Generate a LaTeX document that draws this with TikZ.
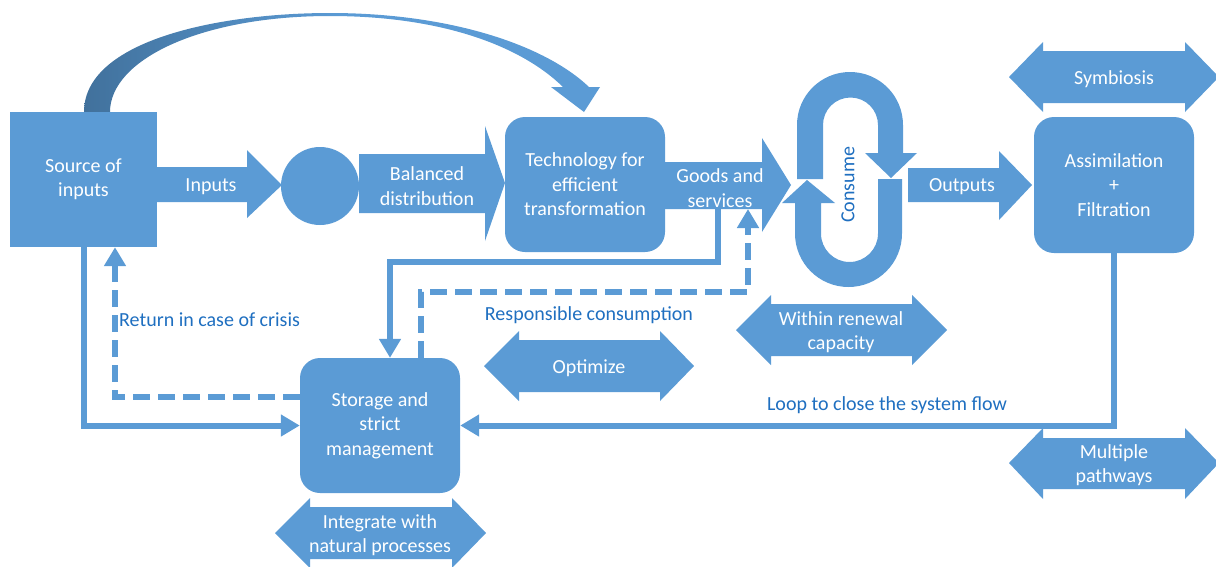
\documentclass[tikz,border=0pt]{standalone}
\usepackage{fontspec}
\setmainfont{Carlito}
\usetikzlibrary{arrows.meta}
\definecolor{fillblue}{HTML}{5B9BD5}
\definecolor{darkfill}{HTML}{41719C}
\definecolor{labelblue}{HTML}{1F6FC0}
\begin{document}
\begin{tikzpicture}[x=1pt,y=-1pt,
  blk/.style={fill=fillblue,draw=none},
  txtfont/.style={font=\fontsize{20}{24.4}\selectfont},
  boxtxt/.style={txtfont,text=white,align=center,inner sep=0pt,yshift=-2pt},
  lbl/.style={txtfont,text=labelblue,inner sep=0pt},
  rbox/.style={txtfont,fill=fillblue,rounded corners=20pt,inner sep=0pt,text=white,align=center},
  conn/.style={draw=fillblue,line width=6pt},
  dconn/.style={conn,dash pattern=on 17pt off 8pt},
  tip/.style={-{Triangle[width=21pt,length=19pt]}}
]
\useasboundingbox (0,0) rectangle (1216,566);

% curved arrow from source to technology
\shade[left color=darkfill,right color=fillblue,middle color=fillblue]
  (84,112) .. controls (84,40) and (220,13) .. (330,13)
  .. controls (450,13) and (545,45) .. (589,87)
  -- (600,87) -- (584,112) -- (551,87) -- (563,87)
  .. controls (520,45) and (440,16) .. (330,16)
  .. controls (200,16) and (110,60) .. (110,112) -- cycle;

% block arrows
\fill[blk] (157,167) -- (247,167) -- (247,150) -- (282,185) -- (247,218) -- (247,202) -- (157,202) -- cycle;
\fill[blk] (359,154) -- (485,154) -- (485,126) -- (505,183) -- (485,241) -- (485,213) -- (359,213) -- cycle;
\fill[blk] (665,162) -- (762,162) -- (762,138) -- (791,185) -- (762,232) -- (762,209) -- (665,209) -- cycle;
\fill[blk] (908,168) -- (999,168) -- (999,151) -- (1032,185) -- (999,220) -- (999,202) -- (908,202) -- cycle;

% double arrows
\fill[blk] (1009,77) -- (1043,42) -- (1043,51) -- (1185,51) -- (1185,42) -- (1219,77) -- (1185,112) -- (1185,103) -- (1043,103) -- (1043,112) -- cycle;
\fill[blk] (1009,463) -- (1043,428) -- (1043,438) -- (1185,438) -- (1185,428) -- (1219,463) -- (1185,499) -- (1185,489) -- (1043,489) -- (1043,499) -- cycle;
\fill[blk] (484,366) -- (519,331) -- (519,340) -- (660,340) -- (660,331) -- (694,366) -- (660,401) -- (660,392) -- (519,392) -- (519,401) -- cycle;
\fill[blk] (736,330) -- (771,295) -- (771,304) -- (912,304) -- (912,295) -- (947,330) -- (912,365) -- (912,356) -- (771,356) -- (771,365) -- cycle;
\fill[blk] (275,533) -- (310,498) -- (310,507) -- (452,507) -- (452,498) -- (486,533) -- (452,568) -- (452,559) -- (310,559) -- (310,568) -- cycle;

% consume loop
\fill[blk] (797,179) -- (797,125) .. controls (797,95.7) and (820.7,72) .. (850,72)
  .. controls (879.3,72) and (903,95.7) .. (903,125) -- (903,153) -- (917,153) -- (891,178)
  -- (865,153) -- (878,153) -- (878,125) .. controls (878,109.8) and (865.7,97.5) .. (850.5,97.5)
  .. controls (835.3,97.5) and (823,109.8) .. (823,125) -- (823,179) -- cycle;
\fill[blk] (878,179) -- (902,179) -- (902,233.5) .. controls (902,263) and (878,287) .. (848.5,287)
  .. controls (819,287) and (795,263) .. (795,233.5) -- (795,203) -- (782,203) -- (807,180)
  -- (835,203) -- (821,203) -- (821,233.5) .. controls (821,249.2) and (833.8,262) .. (849.5,262)
  .. controls (865.2,262) and (878,249.2) .. (878,233.5) -- cycle;

% main nodes
\node[rbox,rounded corners=0pt,minimum width=147pt,minimum height=135pt] (src) at (83.5,179.5) {Source of\\inputs};
\node[circle,fill=fillblue,minimum size=78pt,inner sep=0pt] (hub) at (320,186) {};
\node[rbox,minimum width=160pt,minimum height=135pt] (tech) at (585,184.5) {Technology for\\efficient\\transformation};
\node[rbox,minimum width=160pt,minimum height=136pt] (assim) at (1114,185) {Assimilation\\+\\Filtration};
\node[rbox,minimum width=160pt,minimum height=135pt] (stor) at (380,425.5) {Storage and\\strict\\management};

% arrow texts
\node[boxtxt] (inp) at (211,185) {Inputs};
\node[boxtxt] (bal) at (427,184) {Balanced\\distribution};
\node[boxtxt] (goods) at (720,186) {Goods and\\services};
\node[boxtxt] (outp) at (962,185) {Outputs};
\node[boxtxt] (sym) at (1114,77) {Symbiosis};
\node[boxtxt] (opt) at (589,366) {Optimize};
\node[boxtxt] (ren) at (841,330) {Within renewal\\capacity};
\node[boxtxt] (mult) at (1114,463) {Multiple\\pathways};
\node[boxtxt] (integ) at (380,533) {Integrate with\\natural processes};
\node[lbl,rotate=90] (cons) at (848,185) {Consume};

% connectors
\coordinate (rc) at (115,397);
\coordinate (gs) at (718,209);
\coordinate (gc) at (390,262);
\coordinate (dc1) at (421,292);
\coordinate (dc2) at (748,209);
\draw[conn,tip] (src.south) |- (stor.west);
\draw[dconn,tip] (stor.west |- rc) -- (rc) -- (rc |- src.south);
\draw[conn,tip] (gs) |- (gc) -- (gc |- stor.north);
\draw[dconn,tip] (stor.north -| dc1) -- (dc1) -| (dc2);
\draw[conn,tip] (assim.south) |- (stor.east);

% labels
\node[lbl,anchor=west] (ret) at (119,320) {Return in case of crisis};
\node[lbl] (resp) at (589,315) {Responsible consumption};
\node[lbl] (loop) at (887,405) {Loop to close the system flow};
\end{tikzpicture}
\end{document}
